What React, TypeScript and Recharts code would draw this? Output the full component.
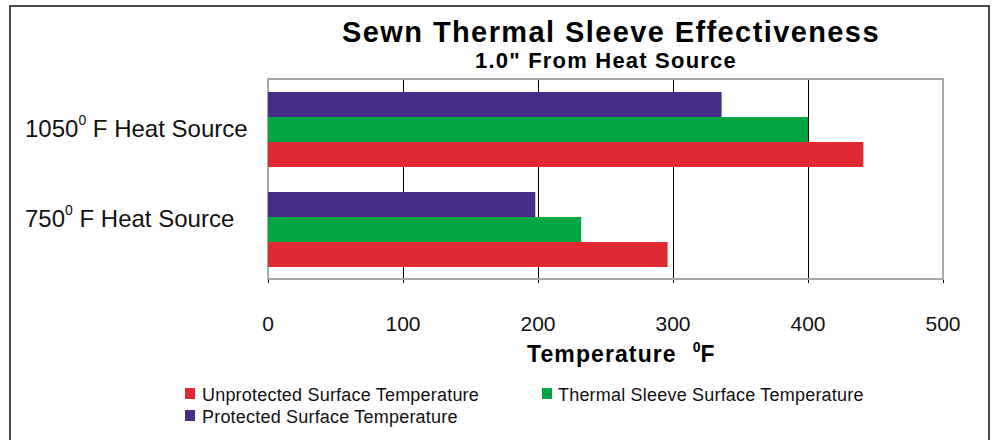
import React from 'react'
import {
  BarChart,
  Bar,
  XAxis,
  YAxis,
  CartesianGrid,
  ReferenceArea,
} from 'recharts'

const categories = ['1050', '750']
const protectedTemps = [336, 198]
const sleeveTemps = [400, 232]
const unprotectedTemps = [441, 296]
const xTicks = [0, 100, 200, 300, 400, 500]

const seriesNames = [
  'Unprotected Surface Temperature',
  'Thermal Sleeve Surface Temperature',
  'Protected Surface Temperature',
]

const RED = '#e02a33'
const GREEN = '#00a642'
const PURPLE = '#482d88'
const FONT = '"Liberation Sans", Arial, Helvetica, sans-serif'

const data = categories.map((name, i) => ({
  name,
  protectedT: protectedTemps[i],
  sleeveT: sleeveTemps[i],
  unprotectedT: unprotectedTemps[i],
}))

// label baselines sit a little off the band centres in the original
const labelShift = [8, -2]

function CategoryTick(props: any) {
  const { y, payload, index } = props
  return (
    <text x={25} y={y + (labelShift[index] ?? 0)} fontFamily={FONT} fontSize={24} fill="#111">
      <tspan>{payload.value}</tspan>
      <tspan fontSize={14} dy={-12}>0</tspan>
      <tspan dy={12}> F Heat Source</tspan>
    </text>
  )
}

export default function App() {
  return (
    <div style={{ position: 'absolute', left: 0, top: 0, width: 992, height: 440, background: '#fff' }}>
      <BarChart
        width={992}
        height={440}
        data={data}
        layout="vertical"
        margin={{ top: 79, right: 49, bottom: 117, left: 0 }}
        barGap={0}
      >
        <CartesianGrid
          vertical
          horizontal={false}
          stroke="#000"
          strokeWidth={1}
          shapeRendering="crispEdges"
        />
        <XAxis
          type="number"
          domain={[0, 500]}
          ticks={xTicks}
          axisLine={false}
          tickLine={false}
          tickSize={0}
          tickMargin={33}
          height={40}
          tick={{ fontSize: 21, fill: '#111', fontFamily: FONT }}
          interval={0}
        />
        <YAxis
          type="category"
          dataKey="name"
          width={268}
          axisLine={false}
          tickLine={false}
          padding={{ top: 0, bottom: 4 }}
          tick={<CategoryTick />}
        />
        <Bar dataKey="protectedT" fill={PURPLE} barSize={25} isAnimationActive={false} />
        <Bar dataKey="sleeveT" fill={GREEN} barSize={25} isAnimationActive={false} />
        <Bar dataKey="unprotectedT" fill={RED} barSize={25} isAnimationActive={false} />
        <ReferenceArea x1={0} x2={500} fill="none" fillOpacity={0} stroke="#a8a8a8" strokeWidth={2} />
      </BarChart>

      <svg
        width={992}
        height={440}
        style={{ position: 'absolute', left: 0, top: 0, pointerEvents: 'none' }}
        fontFamily={FONT}
      >
        <rect x={10} y={6} width={979} height={460} fill="none" stroke="#111" strokeWidth={1.5} />
        <text x={611} y={42} textAnchor="middle" fontSize={29} fontWeight="bold" letterSpacing={1.4} fill="#000">
          Sewn Thermal Sleeve Effectiveness
        </text>
        <text x={606} y={68} textAnchor="middle" fontSize={22} fontWeight="bold" letterSpacing={1.2} fill="#000">
          1.0" From Heat Source
        </text>
        <text x={527} y={362} fontSize={23} fontWeight="bold" fill="#000">
          <tspan letterSpacing={1.1}>Temperature</tspan>
          <tspan dx={16} dy={-10} fontSize={14}>0</tspan>
          <tspan dy={10}>F</tspan>
        </text>

        <rect x={185} y={388} width={10} height={11} fill={RED} />
        <text x={202} y={401} fontSize={18} letterSpacing={0.2} fill="#111">{seriesNames[0]}</text>
        <rect x={542} y={388} width={10} height={11} fill={GREEN} />
        <text x={558} y={401} fontSize={18} letterSpacing={0.2} fill="#111">{seriesNames[1]}</text>
        <rect x={185} y={410} width={10} height={11} fill={PURPLE} />
        <text x={202} y={423} fontSize={18} letterSpacing={0.2} fill="#111">{seriesNames[2]}</text>
      </svg>
    </div>
  )
}
